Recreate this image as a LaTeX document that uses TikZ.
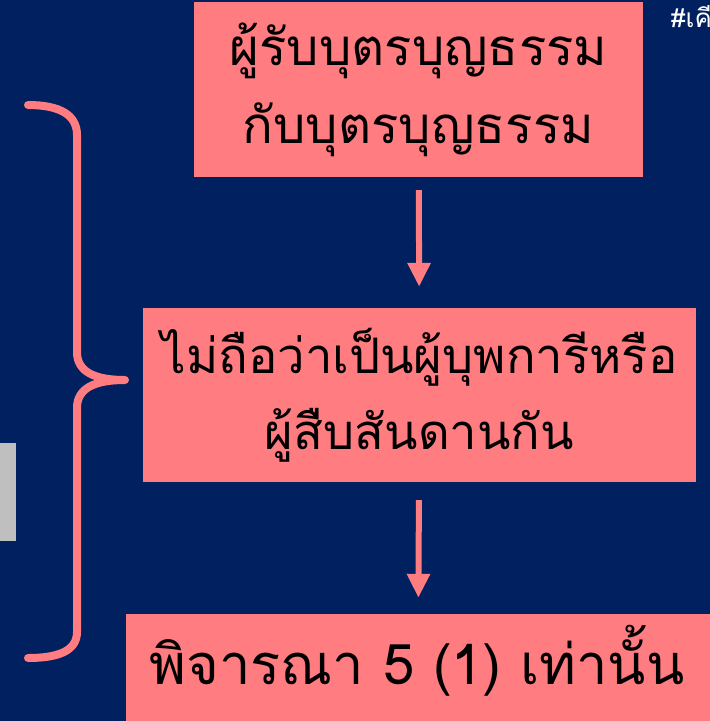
\documentclass[tikz,border=0pt]{standalone}
\usepackage{fontspec}
\newfontfamily\thaifont[Script=Thai]{Loma}
\usetikzlibrary{arrows.meta,calc}
\definecolor{bgblue}{HTML}{002060}
\definecolor{salmon}{HTML}{FF7C80}
\definecolor{greybar}{HTML}{BFBFBF}
\tikzset{
  box/.style={fill=salmon, draw=none, inner sep=0pt, align=center, text=black},
  flowarrow/.style={draw=salmon, line width=6pt, -{Triangle[width=22pt,length=24pt]}},
  bracestyle/.style={draw=salmon, line width=8pt, line cap=round, line join=round}
}
\begin{document}
\begin{tikzpicture}[x=1pt,y=-1pt]
\useasboundingbox (0,0) rectangle (710,721);
\clip (0,0) rectangle (710,721);
\fill[bgblue] (0,0) rectangle (710,721);
\fill[greybar] (0,443) rectangle (16,541);
\node[box, minimum width=449pt, minimum height=175pt, font=\thaifont\fontsize{51}{78}\selectfont] (b1) at (418.5,89.5) {ผู้รับบุตรบุญธรรม\\กับบุตรบุญธรรม};
\node[box, minimum width=553pt, minimum height=174pt, font=\thaifont\fontsize{49}{76}\selectfont] (b2) at (419.5,395) {ไม่ถือว่าเป็นผู้บุพการีหรือ\\ผู้สืบสันดานกัน};
\node[box, minimum width=584pt, minimum height=107pt] (b3) at (418,667.5) {};
\node[inner sep=0pt, text=black, font=\thaifont\fontsize{56}{60}\selectfont] (b3text) at ($(b3.center)+(-1,-7)$) {พิจารณา 5 (1) เท่านั้น};
\draw[flowarrow, shorten <=13pt, shorten >=21pt] (b1) -- (b2);
\draw[flowarrow, shorten <=18pt, shorten >=16pt] (b2) -- (b3);
\draw[bracestyle] (28,105) .. controls (60,105) and (77,115) .. (77,135) -- (77,352) .. controls (77,372) and (95,380) .. (125,380)
  .. controls (95,380) and (77,388) .. (77,408) -- (77,632) .. controls (77,650) and (60,658) .. (28,658);
\node[anchor=west, text=white, inner sep=0pt, font=\thaifont\fontsize{26}{30}\selectfont] (tag) at (671,17) {\#เคี};
\end{tikzpicture}
\end{document}
